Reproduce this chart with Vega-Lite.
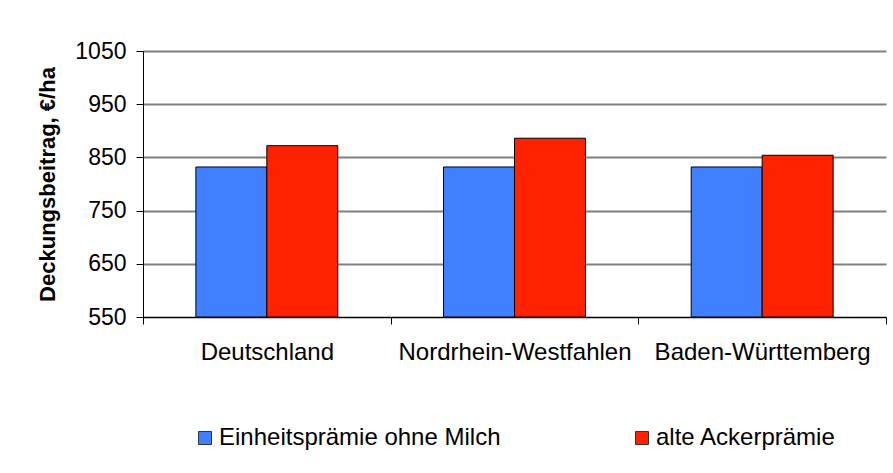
{
  "$schema": "https://vega.github.io/schema/vega-lite/v6.json",
  "width": 743,
  "height": 266,
  "autosize": {"type": "none"},
  "padding": {"left": 143, "top": 51, "right": 7, "bottom": 156},
  "background": "white",
  "config": {
    "font": "Liberation Sans",
    "view": {"stroke": null}
  },
  "data": {
    "values": [
      {"region": "Deutschland", "serie": "Einheitsprämie ohne Milch", "wert": 832},
      {"region": "Deutschland", "serie": "alte Ackerprämie", "wert": 872},
      {"region": "Nordrhein-Westfahlen", "serie": "Einheitsprämie ohne Milch", "wert": 832},
      {"region": "Nordrhein-Westfahlen", "serie": "alte Ackerprämie", "wert": 886},
      {"region": "Baden-Württemberg", "serie": "Einheitsprämie ohne Milch", "wert": 832},
      {"region": "Baden-Württemberg", "serie": "alte Ackerprämie", "wert": 854}
    ]
  },
  "mark": {"type": "bar", "stroke": "#000000", "strokeWidth": 1},
  "encoding": {
    "x": {
      "field": "region",
      "type": "nominal",
      "sort": ["Deutschland", "Nordrhein-Westfahlen", "Baden-Württemberg"],
      "scale": {"paddingInner": 0, "paddingOuter": 0},
      "axis": {
        "title": null,
        "labelAngle": 0,
        "labelFontSize": 24,
        "labelColor": "#000000",
        "labelPadding": 16,
        "tickBand": "extent",
        "tickSize": 7,
        "tickColor": "#000000",
        "domainColor": "#000000",
        "domainWidth": 1,
        "grid": false,
        "labelLimit": 400
      }
    },
    "xOffset": {
      "field": "serie",
      "type": "nominal",
      "sort": ["Einheitsprämie ohne Milch", "alte Ackerprämie"],
      "scale": {"paddingInner": 0, "paddingOuter": 0.745}
    },
    "y": {
      "field": "wert",
      "type": "quantitative",
      "scale": {"domain": [550, 1050], "nice": false, "zero": false},
      "axis": {
        "title": "Deckungsbeitrag, €/ha",
        "titleFontSize": 22,
        "titleFontWeight": "bold",
        "titleColor": "#000000",
        "titlePadding": 15,
        "values": [550, 650, 750, 850, 950, 1050],
        "format": "d",
        "labelFontSize": 23,
        "labelColor": "#000000",
        "labelPadding": 10,
        "tickSize": 7,
        "tickColor": "#000000",
        "domainColor": "#000000",
        "gridColor": "#808080",
        "gridWidth": 2
      }
    },
    "y2": {"datum": 550},
    "color": {
      "field": "serie",
      "type": "nominal",
      "sort": ["Einheitsprämie ohne Milch", "alte Ackerprämie"],
      "scale": {"range": ["#4080FF", "#FF2200"]},
      "legend": {
        "title": null,
        "orient": "none",
        "legendX": 50,
        "legendY": 375,
        "direction": "horizontal",
        "symbolType": "square",
        "symbolSize": 169,
        "symbolStrokeWidth": 1,
        "symbolStrokeColor": "#333333",
        "labelFontSize": 24,
        "labelColor": "#000000",
        "labelOffset": 2,
        "labelLimit": 400,
        "columnPadding": 129,
        "padding": 0
      }
    }
  }
}
